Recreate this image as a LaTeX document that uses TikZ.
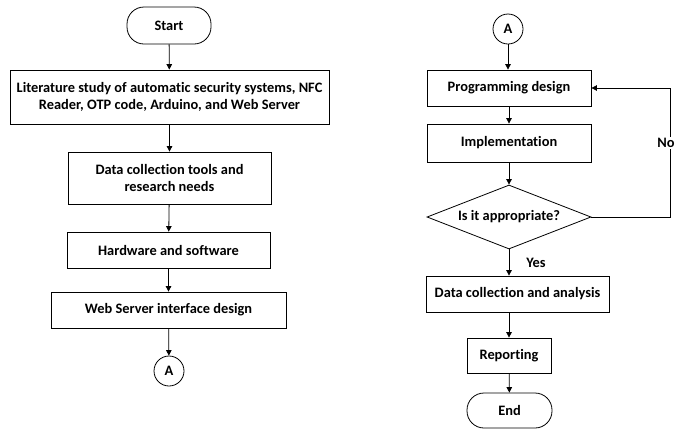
\documentclass[tikz,border=0pt]{standalone}
\usepackage{fontspec}
\setmainfont{Carlito}[Ligatures=NoCommon]
\usetikzlibrary{shapes.geometric,arrows.meta}
\begin{document}
\begin{tikzpicture}[x=1pt,y=-1pt,
  font=\fontsize{14.4}{17.5}\selectfont\bfseries,
  every node/.style={inner sep=0pt, align=center},
  box/.style={draw, line width=0.8pt, rectangle},
  term/.style={draw, line width=0.8pt, rectangle, rounded corners=17pt},
  conn/.style={draw, line width=0.8pt, circle, minimum size=30pt},
  decide/.style={draw, line width=0.8pt, diamond, aspect=2.56, minimum width=164pt, minimum height=64pt},
  flow/.style={line width=0.8pt, -{Triangle[length=5.5pt,width=5.5pt]}}
]
\useasboundingbox (0,0) rectangle (676,429);
% left column
\node[term, minimum width=84pt, minimum height=37pt] (start) at (169,25.5) {Start};
\node[box, minimum width=319pt, minimum height=54pt] (lit) at (169.5,97) {Literature study of automatic security systems, NFC\\Reader, OTP code, Arduino, and Web Server};
\node[box, minimum width=203pt, minimum height=52pt] (dct) at (169.5,178) {Data collection tools and\\research needs};
\node[box, minimum width=203pt, minimum height=36pt] (hw) at (168.5,250) {Hardware and software};
\node[box, minimum width=235pt, minimum height=36pt] (web) at (168.5,310) {Web Server interface design};
\node[conn] (a1) at (169,371) {A};
% right column
\node[conn] (a2) at (508,29) {A};
\node[box, minimum width=164pt, minimum height=36pt] (prog) at (509,88) {Programming design};
\node[box, minimum width=164pt, minimum height=38pt] (impl) at (509,143) {Implementation};
\node[decide] (dia) at (509,217) {Is it appropriate?};
\node[box, minimum width=183pt, minimum height=36pt] (dca) at (517.5,294) {Data collection and analysis};
\node[box, minimum width=84pt, minimum height=35pt] (rep) at (509,355.5) {Reporting};
\node[term, minimum width=85pt, minimum height=35pt] (end) at (509.5,410.5) {End};
\coordinate (nocorner) at (670,217);
% connectors left
\draw[flow] (start) -- (lit);
\draw[flow] (lit) -- (dct);
\draw[flow] (dct) -- (hw);
\draw[flow] (hw) -- (web);
\draw[flow] (web) -- (a1);
% connectors right
\draw[flow] (a2) -- (a2 |- prog.north);
\draw[flow] (prog) -- (impl);
\draw[flow] (impl) -- (dia);
\draw[flow] (dia.south) -- (dia.south |- dca.north);
\draw[flow] (dca.south -| rep.north) -- (rep.north);
\draw[flow] (rep) -- (end);
\draw[flow] (dia.east) -- (nocorner) |- (prog.east);
\node[fill=white, inner sep=1pt] (nolabel) at (666,143) {No};
\node (yeslabel) at (536,263) {Yes};
\end{tikzpicture}
\end{document}
